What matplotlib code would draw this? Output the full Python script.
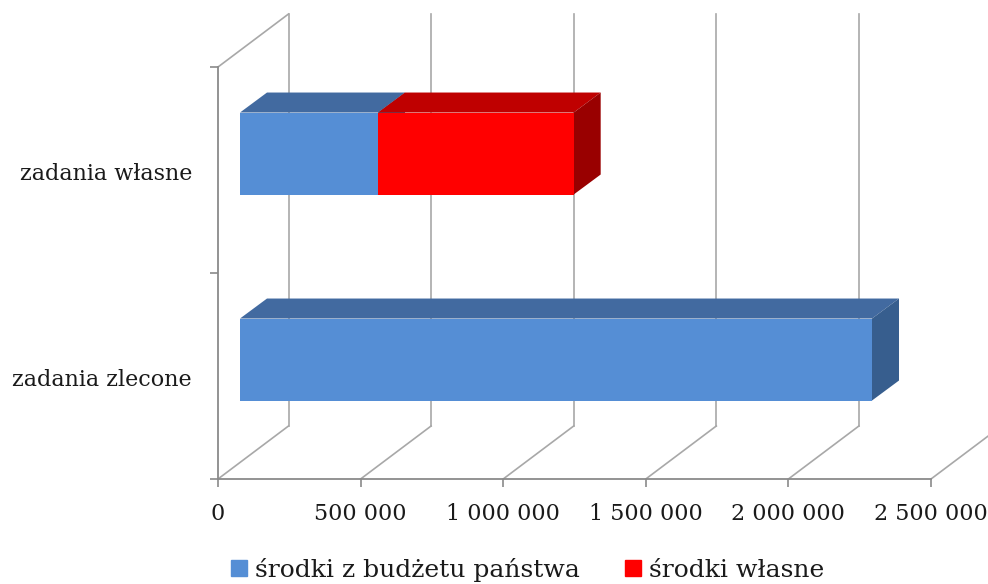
import matplotlib
matplotlib.use("Agg")
import matplotlib.pyplot as plt
from matplotlib.patches import Patch
from matplotlib.transforms import ScaledTranslation

categories = ["zadania zlecone", "zadania własne"]
cat_pos = [0.58, 1.58]
budget = [2216000, 484000]
own = [0, 686000]
xticks = [0, 500000, 1000000, 1500000, 2000000, 2500000]
xticklabels = ["0", "500 000", "1 000 000", "1 500 000", "2 000 000", "2 500 000"]
legend_labels = ["środki z budżetu państwa", "środki własne"]

BLUE = ("#558ed5", "#426aa0", "#375e8e")
RED = ("#ff0000", "#bf0000", "#990000")
GRID = "#a8a8a8"
AXIS = "#8a8a8a"

plt.rcParams["font.family"] = ["DejaVu Serif"]

fig = plt.figure(figsize=(9.88, 5.84), dpi=100)
ax = fig.add_axes([218 / 988, 105 / 584, 713 / 988, 412 / 584])
ax.set_xlim(0, 2500000)
ax.set_ylim(0, 2)


def shifted(px_x, px_y):
    # data coordinates moved by some pixels, gives the oblique 3d look
    return ax.transData + ScaledTranslation(px_x / 100, px_y / 100, fig.dpi_scale_trans)


# walls: diagonal on the floor, vertical on the back
back = shifted(70.5, 53)
for x in xticks:
    if x == 0:
        ax.plot([0, 70.5 / 713 * 2500000], [2, 2 + 53 / 206], color=GRID, lw=1.2, clip_on=False)
    if x < 2500000:
        ax.plot([x, x], [0, 2], color=GRID, lw=1.2, transform=back, clip_on=False)
    ax.plot([x, x + 70.5 / 713 * 2500000], [0, 53 / 206], color=GRID, lw=1.2, clip_on=False)

bar_h = 0.398
front = shifted(22, 0)
dx = 27 / 713 * 2500000
dy = 20 / 206


def draw_block(left, width, y, cols):
    right = left + width
    top = y + bar_h / 2
    bot = y - bar_h / 2
    ax.fill([left, right, right + dx, left + dx], [top, top, top + dy, top + dy],
            color=cols[1], lw=0, transform=front, clip_on=False, zorder=4)
    ax.fill([right, right + dx, right + dx, right], [top, top + dy, bot + dy, bot],
            color=cols[2], lw=0, transform=front, clip_on=False, zorder=4)
    ax.barh(y, width, left=left, height=bar_h, color=cols[0], transform=front,
            clip_on=False, zorder=5)


for y, b, o in zip(cat_pos, budget, own):
    draw_block(0, b, y, BLUE)
    if o > 0:
        draw_block(b, o, y, RED)

for s in ["top", "right"]:
    ax.spines[s].set_visible(False)
for s in ["left", "bottom"]:
    ax.spines[s].set_color(AXIS)
    ax.spines[s].set_linewidth(1.3)

ax.set_xticks(xticks)
ax.set_xticklabels(xticklabels, fontsize=16, color="#1a1a1a")
ax.tick_params(axis="x", length=6, width=1.2, color=AXIS, pad=11)
ax.set_yticks([0, 1, 2])
ax.set_yticklabels(["", "", ""])
ax.tick_params(axis="y", length=6, width=1.2, color=AXIS)
ax.set_yticks([0.495, 1.495], minor=True)
ax.set_yticklabels(categories, minor=True, fontsize=16, color="#1a1a1a")
ax.tick_params(axis="y", which="minor", length=0, pad=18.7)

handles = [Patch(color=BLUE[0]), Patch(color=RED[0])]
fig.legend(handles, legend_labels, loc="lower left", bbox_to_anchor=(231 / 988, 2 / 584),
           ncol=2, frameon=False, fontsize=18, handlelength=0.64, handleheight=0.64,
           handletextpad=0.32, columnspacing=1.8, borderpad=0, borderaxespad=0,
           labelcolor="#1a1a1a")

fig.savefig("out.png", dpi=100)
